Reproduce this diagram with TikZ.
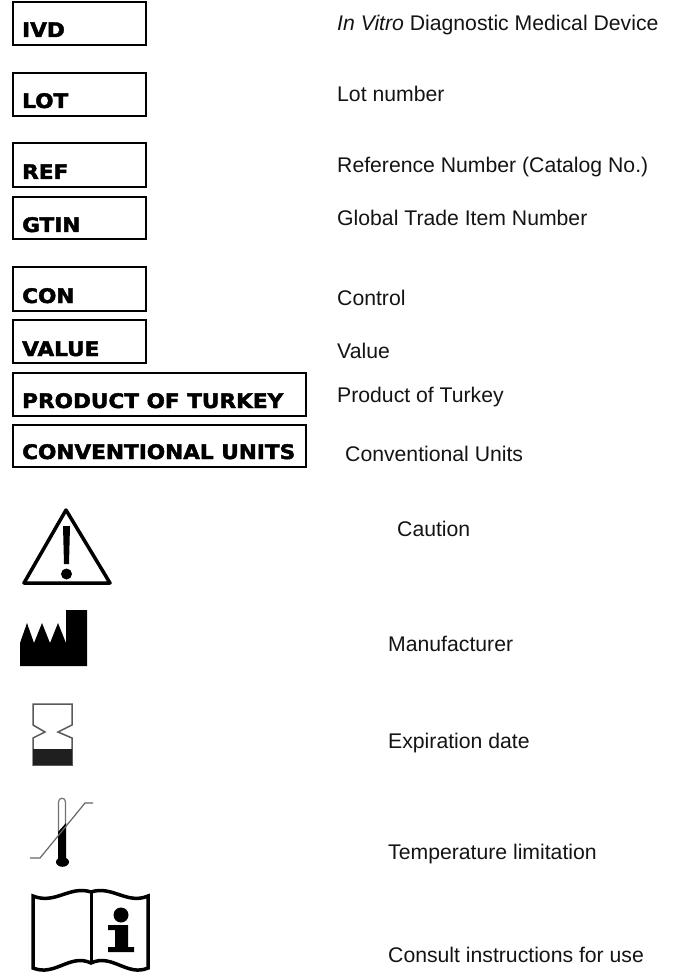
\documentclass[tikz,border=0pt]{standalone}
\usepackage{fontspec}
\setmainfont{Liberation Sans}
\newfontfamily\blk{DejaVu Sans Bold}[FakeBold=2.2,FakeStretch=1.08]
\tikzset{
  x=1pt,y=-1pt,
  symbox/.style={draw=black,line width=1.7pt,fill=white},
  code/.style={anchor=base west,inner sep=0pt,font=\blk\fontsize{20}{22}\selectfont},
  desc/.style={anchor=base west,inner sep=0pt,font=\fontsize{21.2}{24}\selectfont,text=black!92},
  glyph/.style={line width=3.5pt,draw=black,line join=miter},
}
\begin{document}
\begin{tikzpicture}
\useasboundingbox (0,0) rectangle (679,973);
\fill[white] (0,0) rectangle (679,973);
% boxes
\draw[symbox] (13,2) rectangle (146,45);
\draw[symbox] (13,73) rectangle (146,116);
\draw[symbox] (13,143) rectangle (146,187);
\draw[symbox] (13,197) rectangle (146,239);
\draw[symbox] (13,267) rectangle (146,311);
\draw[symbox] (13,320) rectangle (146,363);
\draw[symbox] (13,373) rectangle (306,416);
\draw[symbox] (13,425) rectangle (306,467);
\node[code] (c1) at (22,37) {IVD};
\node[code] (c2) at (22,108) {LOT};
\node[code] (c3) at (22,179) {REF};
\node[code] (c4) at (22,232) {GTIN};
\node[code] (c5) at (22,303) {CON};
\node[code] (c6) at (22,356) {VALUE};
\node[code] (c7) at (22,408) {PRODUCT OF TURKEY};
\node[code] (c8) at (22,459) {CONVENTIONAL UNITS};
% descriptions
\node[desc] (d1) at (337,31) {\textit{In Vitro} Diagnostic Medical Device};
\node[desc] (d2) at (337,102) {Lot number};
\node[desc] (d3) at (337,173) {Reference Number (Catalog No.)};
\node[desc] (d4) at (337,226) {Global Trade Item Number};
\node[desc] (d5) at (337,305) {Control};
\node[desc] (d6) at (337,358) {Value};
\node[desc] (d7) at (337,402) {Product of Turkey};
\node[desc] (d8) at (345,461) {Conventional Units};
\node[desc] (d9) at (397,536) {Caution};
\node[desc] (d10) at (388,651) {Manufacturer};
\node[desc] (d11) at (388,748) {Expiration date};
\node[desc] (d12) at (388,859) {Temperature limitation};
\node[desc] (d13) at (388,962) {Consult instructions for use};
% caution
\draw[glyph,line join=round] (66,510) -- (24,583) -- (110,583) -- cycle;
\fill (63,526) -- (70,526) -- (69,564) -- (64,564) -- cycle;
\fill (66.5,574) circle (5.5);
% manufacturer
\fill (20,666) -- (20,643) -- (27,623) -- (34,643) -- (42,623) -- (50,643) -- (58,623) -- (66,643) -- (66,610) -- (87,610) -- (87,666) -- cycle;
% hourglass
\draw[line width=1.5pt,draw=black!65] (33,704) -- (72,704) -- (72,725) -- (58,732) -- (72,738) -- (72,765) -- (33,765) -- (33,738) -- (45,732) -- (33,725) -- cycle;
\fill[black!88] (33,749) rectangle (72,765);
% thermometer
\draw[line width=1.2pt,draw=black!55] (58.5,832) -- (58.5,802) .. controls (58.5,797) and (65.5,797) .. (65.5,802) -- (65.5,826);
\fill (58,832) -- (66,823) -- (66,860) -- (58,860) -- cycle;
\fill (62.5,862) ellipse (6.5 and 4.8);
\draw[line width=1.2pt,draw=black!60] (30,858) -- (40,858) -- (85,803) -- (93,803);
% book
\draw[line width=3.5pt,line join=miter]
 (33,896) .. controls (55,905) and (70,885) .. (91,892) .. controls (112,885) and (127,905) .. (148,896)
 -- (148,968) .. controls (127,977) and (112,953) .. (91,963) .. controls (70,953) and (55,977) .. (33,968) -- cycle;
\draw[line width=3pt] (91,892) -- (91,963);
\fill (121,915) circle (7.5);
\fill (108,925) -- (128,925) -- (128,947) -- (134,947) -- (134,952) -- (108,952) -- (108,947) -- (115,947) -- (115,930) -- (108,930) -- cycle;
\end{tikzpicture}
\end{document}
